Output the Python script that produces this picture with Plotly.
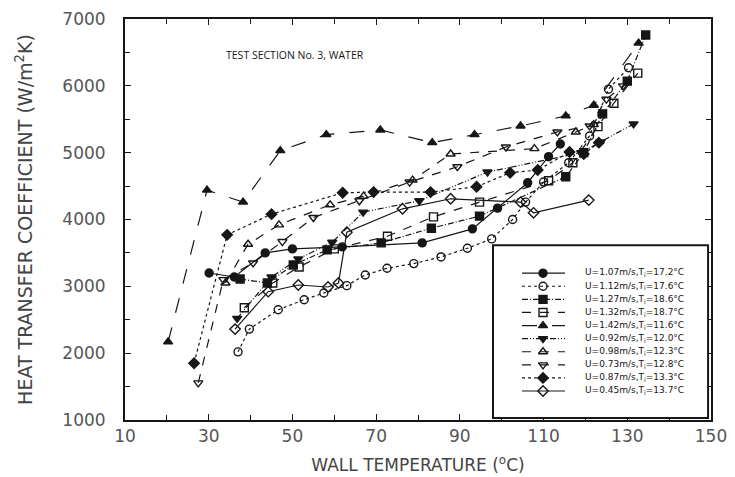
import plotly.graph_objects as go

# ---- data (wall temperature degC, heat transfer coefficient W/m2K) ----
labels = [
    "U=1.07m/s,T<sub>i</sub>=17.2\u00b0C",
    "U=1.12m/s,T<sub>i</sub>=17.6\u00b0C",
    "U=1.27m/s,T<sub>i</sub>=18.6\u00b0C",
    "U=1.32m/s,T<sub>i</sub>=18.7\u00b0C",
    "U=1.42m/s,T<sub>i</sub>=11.6\u00b0C",
    "U=0.92m/s,T<sub>i</sub>=12.0\u00b0C",
    "U=0.98m/s,T<sub>i</sub>=12.3\u00b0C",
    "U=0.73m/s,T<sub>i</sub>=12.8\u00b0C",
    "U=0.87m/s,T<sub>i</sub>=13.3\u00b0C",
    "U=0.45m/s,T<sub>i</sub>=13.7\u00b0C",
]

s1_x = [30.1, 36.1, 43.5, 50.0, 61.9, 81.0, 93.0, 99.0, 106.2, 111.2, 114.0]
s1_y = [3200, 3140, 3500, 3560, 3590, 3650, 3860, 4170, 4550, 4940, 5130]

s2_x = [37.0, 39.7, 46.6, 52.8, 57.5, 63.0, 67.4, 72.6, 79.0, 85.5, 91.8, 97.6, 102.6, 105.7, 110.0, 116.0, 121.0, 125.5, 130.3]
s2_y = [2020, 2360, 2650, 2800, 2900, 3010, 3170, 3270, 3340, 3440, 3570, 3710, 4000, 4260, 4560, 4850, 5250, 5950, 6270]

s3_x = [37.5, 44.0, 50.2, 58.3, 71.2, 83.2, 94.7, 115.3, 119.6, 124.1, 130.0, 134.4]
s3_y = [3110, 3050, 3320, 3545, 3650, 3870, 4050, 4640, 5000, 5580, 6070, 6760]

s4_x = [38.5, 45.3, 51.6, 60.0, 72.7, 83.7, 94.7, 111.2, 117.0, 123.0, 126.8, 132.5]
s4_y = [2680, 3050, 3290, 3560, 3750, 4040, 4260, 4580, 4850, 5390, 5740, 6190]

s5_x = [20.3, 29.6, 38.2, 47.1, 58.1, 71.0, 83.4, 93.5, 104.5, 115.3, 122.0, 132.7]
s5_y = [2170, 4440, 4260, 5030, 5270, 5340, 5150, 5270, 5400, 5550, 5710, 6640]

s6_x = [36.8, 45.0, 51.4, 59.5, 66.9, 80.3, 96.6, 119.0, 123.6, 131.5]
s6_y = [2520, 3140, 3410, 3660, 4110, 4280, 4710, 5000, 5160, 5430]

s7_x = [34.0, 39.4, 46.8, 59.0, 67.0, 78.7, 87.8, 107.8, 117.7, 122.0]
s7_y = [3050, 3630, 3920, 4220, 4350, 4590, 4980, 5060, 5310, 5420]

s8_x = [27.5, 33.5, 40.6, 47.6, 55.0, 66.0, 78.0, 89.4, 101.0, 113.3, 121.0, 125.0, 129.0]
s8_y = [1555, 3100, 3350, 3670, 4030, 4280, 4560, 4790, 5085, 5310, 5400, 5800, 6000]

s9_x = [26.5, 34.4, 45.0, 62.0, 69.4, 83.0, 94.0, 102.0, 108.6, 116.2, 119.6, 123.2]
s9_y = [1850, 3770, 4080, 4400, 4410, 4410, 4490, 4700, 4740, 5010, 4980, 5150]

s10_x = [36.3, 44.2, 51.4, 58.5, 61.0, 63.0, 76.3, 87.8, 104.5, 107.6, 120.8]
s10_y = [2360, 2920, 3020, 2990, 3050, 3810, 4160, 4310, 4260, 4100, 4290]

x_ticks = [10, 30, 50, 70, 90, 110, 130, 150]
y_ticks = [1000, 2000, 3000, 4000, 5000, 6000, 7000]

series_x = [s1_x, s2_x, s3_x, s4_x, s5_x, s6_x, s7_x, s8_x, s9_x, s10_x]
series_y = [s1_y, s2_y, s3_y, s4_y, s5_y, s6_y, s7_y, s8_y, s9_y, s10_y]

# ---- styles ----
INK = "#161616"
symbols = ["circle", "circle-open", "square", "square-open", "triangle-up",
           "triangle-down", "triangle-up-open", "triangle-down-open", "diamond", "diamond-open"]
dashes = ["solid", "dot", "6px,2px,1px,2px", "dash", "longdash",
          "6px,2px,1px,2px,1px,2px", "dash", "dash", "dot", "solid"]

fig = go.Figure()
for i in range(10):
    fig.add_trace(go.Scatter(
        x=series_x[i], y=series_y[i], name=labels[i], mode="lines+markers",
        line=dict(color=INK, width=1.2, dash=dashes[i]),
        marker=dict(symbol=symbols[i], size=8, color=INK,
                    line=dict(color=INK, width=1.4)),
        showlegend=False,
    ))

# ---- legend drawn on its own small axes inside the legend box ----
# legend-axis units: x in box pixels (0..215), y in legend rows
LEG_LINE = (29, 72)
LEG_MARK = 50
LEG_TEXT = 92
rows = list(range(len(labels)))
for i in rows:
    fig.add_trace(go.Scatter(
        x=list(LEG_LINE), y=[i, i], mode="lines", xaxis="x2", yaxis="y2",
        line=dict(color=INK, width=1.2, dash=dashes[i]), showlegend=False, hoverinfo="skip"))
    fig.add_trace(go.Scatter(
        x=[LEG_MARK], y=[i], mode="markers", xaxis="x2", yaxis="y2",
        marker=dict(symbol=symbols[i], size=8, color=INK, line=dict(color=INK, width=1.4)),
        showlegend=False, hoverinfo="skip"))
fig.add_trace(go.Scatter(
    x=[LEG_TEXT] * len(labels), y=rows, mode="text", text=labels, textposition="middle right",
    textfont=dict(family="DejaVu Sans", size=9, color=INK), xaxis="x2", yaxis="y2",
    showlegend=False, hoverinfo="skip"))

FONT = "DejaVu Sans"
fig.update_layout(
    width=735, height=477,
    margin=dict(l=125, r=24, t=19, b=57),
    paper_bgcolor="white", plot_bgcolor="white",
    font=dict(family=FONT, color="#444"),
    showlegend=False,
    xaxis=dict(range=[10, 150], tickvals=x_ticks, ticks="inside", ticklen=6,
               tickcolor=INK, showline=True, linecolor=INK, linewidth=2,
               mirror="allticks", showgrid=False, zeroline=False, automargin=False,
               tickfont=dict(size=17, color="#555"),
               minor=dict(dtick=10, tick0=10, ticks="inside", ticklen=5, tickcolor=INK, showgrid=False),
               title=dict(text="WALL TEMPERATURE (<sup>o</sup>C)", font=dict(size=17, color="#444"), standoff=14)),
    yaxis=dict(range=[1000, 7000], tickvals=y_ticks, ticks="inside", ticklen=6,
               tickcolor=INK, showline=True, linecolor=INK, linewidth=2,
               mirror="allticks", showgrid=False, zeroline=False, automargin=False,
               ticklabelstandoff=14,
               tickfont=dict(size=17, color="#555"),
               minor=dict(dtick=500, tick0=1000, ticks="inside", ticklen=5, tickcolor=INK, showgrid=False),
               title=dict(text="HEAT TRANSFER COEFFICIENT (W/m<sup>2</sup>K)", font=dict(size=19, color="#444"), standoff=25)),
    xaxis2=dict(domain=[0.628, 0.995], range=[0, 215], visible=False, anchor="y2",
                fixedrange=True, automargin=False),
    yaxis2=dict(domain=[0.005, 0.436], range=[11.06, -2.14], visible=False, anchor="x2",
                fixedrange=True, automargin=False),
    shapes=[dict(type="rect", xref="paper", yref="paper", x0=0.628, x1=0.995, y0=0.005, y1=0.436,
                 line=dict(color=INK, width=2), fillcolor="rgba(0,0,0,0)", layer="above")],
    annotations=[dict(text="TEST SECTION No. 3, WATER", xref="paper", yref="paper",
                      x=0.169, y=0.91, xanchor="left", yanchor="middle", showarrow=False,
                      font=dict(family="Open Sans", size=10.5, color=INK))],
)

fig.write_html("out.html")
